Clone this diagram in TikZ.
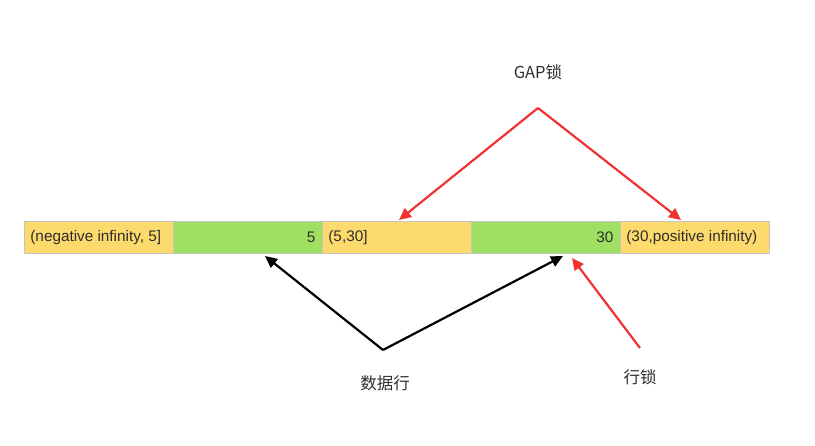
\documentclass[tikz,border=0pt]{standalone}
\usepackage{fontspec}
\setmainfont{Liberation Sans}
\newfontfamily\cjk{Noto Sans CJK SC}
\usetikzlibrary{arrows.meta}
\definecolor{cellY}{HTML}{FCDA6C}
\definecolor{cellG}{HTML}{9FE063}
\definecolor{cellB}{HTML}{C4C4C4}
\definecolor{txt}{HTML}{2E2E2E}
\definecolor{redA}{HTML}{F03232}
\tikzset{
  cell/.style={draw=cellB, line width=0.8pt, minimum height=32pt, inner sep=0pt, text=txt, font=\fontsize{15.3}{17}\selectfont},
  ycell/.style={cell, fill=cellY},
  gcell/.style={cell, fill=cellG},
  lbl/.style={text=txt, font=\cjk\fontsize{16.5}{19}\selectfont},
  redarrow/.style={draw=redA, line width=2.2pt, -{Triangle[length=12pt,width=11pt]}},
  blackarrow/.style={draw=black, line width=2.2pt, -{Triangle[length=12pt,width=11pt]}},
}
\begin{document}
\begin{tikzpicture}[x=1pt,y=-1pt]
\useasboundingbox (0,0) rectangle (815,446);
\node[ycell, minimum width=149pt, anchor=north west] (c1) at (24,221) {};
\node[gcell, minimum width=149pt, anchor=north west] (c2) at (173,221) {};
\node[ycell, minimum width=149pt, anchor=north west] (c3) at (322,221) {};
\node[gcell, minimum width=149pt, anchor=north west] (c4) at (471,221) {};
\node[ycell, minimum width=149pt, anchor=north west] (c5) at (620,221) {};
\node[cell, draw=none, anchor=west] (t1) at ([xshift=6pt]c1.west) {(negative infinity, 5]};
\node[cell, draw=none, anchor=east] (t2) at ([xshift=-7pt]c2.east) {5};
\node[cell, draw=none, anchor=west] (t3) at ([xshift=6pt]c3.west) {(5,30]};
\node[cell, draw=none, anchor=east] (t4) at ([xshift=-7pt]c4.east) {30};
\node[cell, draw=none, anchor=west] (t5) at ([xshift=6pt]c5.west) {(30,positive infinity)};
\draw[cellB, line width=0.8pt] (c1.north west) rectangle (c5.south east);

\node[lbl] (gap) at (538,72) {GAP锁};
\node[lbl] (data) at (385,383) {数据行};
\node[lbl] (row) at (640,377) {行锁};

\coordinate (gapapex) at (538,108);
\coordinate (dataapex) at (383,350);
\coordinate (rowtail) at (640,348);
\coordinate (g1) at (399,220);
\coordinate (g2) at (681,220);
\coordinate (d1) at (265,256);
\coordinate (d2) at (563,256);
\coordinate (r1) at (572,258);

\draw[redarrow] (gapapex) -- (g1);
\draw[redarrow] (gapapex) -- (g2);
\draw[blackarrow] (dataapex) -- (d1);
\draw[blackarrow] (dataapex) -- (d2);
\draw[redarrow] (rowtail) -- (r1);
\end{tikzpicture}
\end{document}
